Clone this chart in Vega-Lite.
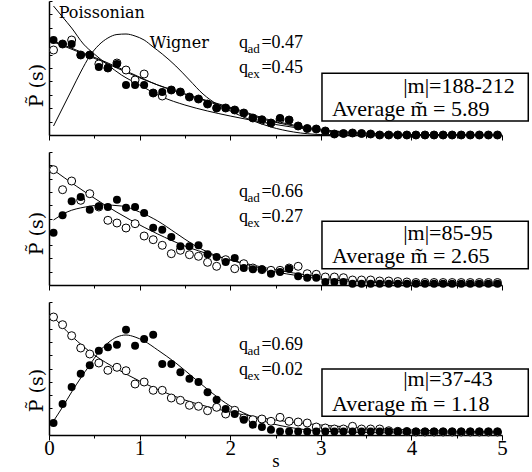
{
  "$schema": "https://vega.github.io/schema/vega-lite/v6.json",
  "padding": {"left": 27, "top": 0, "right": 0, "bottom": 0},
  "spacing": 10,
  "config": {
    "view": {"stroke": null},
    "axis": {"domainColor": "black", "domainWidth": 1.5, "tickColor": "black", "tickWidth": 1, "labelFont": "Liberation Serif", "titleFont": "DejaVu Serif", "labelColor": "black", "titleColor": "black", "grid": false, "titleFontWeight": "normal"}
  },
  "datasets": {
    "a_filled": [
      {"s":0.05,"v":0.95},{"s":0.15,"v":0.91},{"s":0.25,"v":0.91},{"s":0.35,"v":0.80},{"s":0.45,"v":0.80},
      {"s":0.55,"v":0.68},{"s":0.65,"v":0.67},{"s":0.75,"v":0.71},{"s":0.85,"v":0.50},{"s":0.95,"v":0.50},
      {"s":1.05,"v":0.50},{"s":1.15,"v":0.42},{"s":1.25,"v":0.43},{"s":1.35,"v":0.45},{"s":1.45,"v":0.43},
      {"s":1.55,"v":0.38},{"s":1.65,"v":0.36},{"s":1.75,"v":0.31},{"s":1.85,"v":0.27},{"s":1.95,"v":0.27},
      {"s":2.05,"v":0.25},{"s":2.15,"v":0.22},{"s":2.25,"v":0.17},{"s":2.35,"v":0.155},{"s":2.45,"v":0.12},
      {"s":2.55,"v":0.17},{"s":2.65,"v":0.15},{"s":2.75,"v":0.09},{"s":2.85,"v":0.065},{"s":2.95,"v":0.06},
      {"s":3.05,"v":0.04},{"s":3.15,"v":0.01},{"s":3.25,"v":0.015},{"s":3.35,"v":0.02},{"s":3.45,"v":0.015},
      {"s":3.55,"v":0.01},{"s":3.65,"v":0.0},{"s":3.75,"v":0.0},{"s":3.85,"v":0.0},{"s":3.95,"v":0.0},
      {"s":4.05,"v":0.0},{"s":4.15,"v":0.0},{"s":4.25,"v":0.0},{"s":4.35,"v":0.0},{"s":4.45,"v":0.0},
      {"s":4.55,"v":0.0},{"s":4.65,"v":0.0},{"s":4.75,"v":0.0},{"s":4.85,"v":0.0},{"s":4.95,"v":0.0}
    ],
    "a_open": [
      {"s":0.05,"v":0.85},{"s":0.15,"v":0.91},{"s":0.25,"v":0.95},{"s":0.35,"v":0.80},{"s":0.45,"v":0.80},
      {"s":0.55,"v":0.71},{"s":0.65,"v":0.67},{"s":0.75,"v":0.72},{"s":0.85,"v":0.65},{"s":0.95,"v":0.55},
      {"s":1.05,"v":0.61},{"s":1.15,"v":0.42},{"s":1.25,"v":0.39},{"s":1.35,"v":0.45},{"s":1.45,"v":0.43},
      {"s":1.55,"v":0.38},{"s":1.65,"v":0.36},{"s":1.75,"v":0.31},{"s":1.85,"v":0.27},{"s":1.95,"v":0.27},
      {"s":2.05,"v":0.25},{"s":2.15,"v":0.22},{"s":2.25,"v":0.17},{"s":2.35,"v":0.15},{"s":2.45,"v":0.12},
      {"s":2.55,"v":0.16},{"s":2.65,"v":0.15},{"s":2.75,"v":0.09},{"s":2.85,"v":0.065},{"s":2.95,"v":0.06},
      {"s":3.05,"v":0.04},{"s":3.15,"v":0.01},{"s":3.25,"v":0.015},{"s":3.35,"v":0.02},{"s":3.45,"v":0.015},
      {"s":3.55,"v":0.01},{"s":3.65,"v":0.0},{"s":3.75,"v":0.0},{"s":3.85,"v":0.0},{"s":3.95,"v":0.0},
      {"s":4.05,"v":0.0},{"s":4.15,"v":0.0},{"s":4.25,"v":0.0},{"s":4.35,"v":0.0},{"s":4.45,"v":0.0},
      {"s":4.55,"v":0.0},{"s":4.65,"v":0.0},{"s":4.75,"v":0.0},{"s":4.85,"v":0.0},{"s":4.95,"v":0.0}
    ],
    "a_lines": [
      {"curve":"Poisson","s":0.05,"v":1.29},{"curve":"Poisson","s":0.15,"v":1.18},{"curve":"Poisson","s":0.25,"v":1.07},{"curve":"Poisson","s":0.38,"v":0.91},{"curve":"Poisson","s":0.5,"v":0.81},{"curve":"Poisson","s":0.65,"v":0.70},{"curve":"Poisson","s":0.8,"v":0.60},{"curve":"Poisson","s":1.0,"v":0.50},{"curve":"Poisson","s":1.25,"v":0.38},{"curve":"Poisson","s":1.5,"v":0.30},{"curve":"Poisson","s":1.75,"v":0.24},{"curve":"Poisson","s":2.0,"v":0.19},{"curve":"Poisson","s":2.25,"v":0.145},{"curve":"Poisson","s":2.5,"v":0.105},{"curve":"Poisson","s":2.75,"v":0.07},{"curve":"Poisson","s":3.0,"v":0.04},{"curve":"Poisson","s":3.5,"v":0.015},{"curve":"Poisson","s":4.0,"v":0.005},{"curve":"Poisson","s":5.0,"v":0.0},
      {"curve":"Wigner","s":0.05,"v":0.09},{"curve":"Wigner","s":0.15,"v":0.27},{"curve":"Wigner","s":0.25,"v":0.45},{"curve":"Wigner","s":0.35,"v":0.63},{"curve":"Wigner","s":0.45,"v":0.79},{"curve":"Wigner","s":0.55,"v":0.90},{"curve":"Wigner","s":0.65,"v":0.97},{"curve":"Wigner","s":0.75,"v":1.005},{"curve":"Wigner","s":0.85,"v":1.01},{"curve":"Wigner","s":0.95,"v":0.99},{"curve":"Wigner","s":1.05,"v":0.95},{"curve":"Wigner","s":1.15,"v":0.88},{"curve":"Wigner","s":1.25,"v":0.81},{"curve":"Wigner","s":1.4,"v":0.69},{"curve":"Wigner","s":1.55,"v":0.55},{"curve":"Wigner","s":1.7,"v":0.41},{"curve":"Wigner","s":1.85,"v":0.31},{"curve":"Wigner","s":2.0,"v":0.24},{"curve":"Wigner","s":2.2,"v":0.16},{"curve":"Wigner","s":2.45,"v":0.08},{"curve":"Wigner","s":2.7,"v":0.03},{"curve":"Wigner","s":3.0,"v":0.005},{"curve":"Wigner","s":3.5,"v":0.0},{"curve":"Wigner","s":5.0,"v":0.0},
      {"curve":"fit1","s":0.05,"v":0.94},{"curve":"fit1","s":0.3,"v":0.85},{"curve":"fit1","s":0.6,"v":0.74},{"curve":"fit1","s":0.9,"v":0.62},{"curve":"fit1","s":1.2,"v":0.50},{"curve":"fit1","s":1.5,"v":0.41},{"curve":"fit1","s":1.8,"v":0.32},{"curve":"fit1","s":2.1,"v":0.24},{"curve":"fit1","s":2.4,"v":0.15},{"curve":"fit1","s":2.7,"v":0.09},{"curve":"fit1","s":3.0,"v":0.05},{"curve":"fit1","s":3.5,"v":0.015},{"curve":"fit1","s":4.0,"v":0.005},{"curve":"fit1","s":5.0,"v":0.0},
      {"curve":"fit2","s":0.05,"v":0.93},{"curve":"fit2","s":0.3,"v":0.84},{"curve":"fit2","s":0.6,"v":0.73},{"curve":"fit2","s":0.9,"v":0.61},{"curve":"fit2","s":1.2,"v":0.50},{"curve":"fit2","s":1.5,"v":0.41},{"curve":"fit2","s":1.8,"v":0.33},{"curve":"fit2","s":2.1,"v":0.25},{"curve":"fit2","s":2.4,"v":0.16},{"curve":"fit2","s":2.7,"v":0.10},{"curve":"fit2","s":3.0,"v":0.055},{"curve":"fit2","s":3.5,"v":0.02},{"curve":"fit2","s":4.0,"v":0.005},{"curve":"fit2","s":5.0,"v":0.0}
    ],
    "b_filled": [
      {"s":0.05,"v":0.523},{"s":0.15,"v":0.697},{"s":0.25,"v":0.837},{"s":0.35,"v":0.88},{"s":0.45,"v":0.753},
      {"s":0.55,"v":0.787},{"s":0.65,"v":0.78},{"s":0.75,"v":0.853},{"s":0.85,"v":0.773},{"s":0.95,"v":0.78},
      {"s":1.05,"v":0.72},{"s":1.15,"v":0.573},{"s":1.25,"v":0.553},{"s":1.35,"v":0.48},{"s":1.45,"v":0.387},
      {"s":1.55,"v":0.387},{"s":1.65,"v":0.397},{"s":1.75,"v":0.307},{"s":1.85,"v":0.28},{"s":1.95,"v":0.23},
      {"s":2.05,"v":0.27},{"s":2.15,"v":0.17},{"s":2.25,"v":0.157},{"s":2.35,"v":0.157},{"s":2.45,"v":0.113},
      {"s":2.55,"v":0.13},{"s":2.65,"v":0.163},{"s":2.75,"v":0.087},{"s":2.85,"v":0.073},{"s":2.95,"v":0.073},
      {"s":3.05,"v":0.03},{"s":3.15,"v":0.03},{"s":3.25,"v":0.03},{"s":3.35,"v":0.013},{"s":3.45,"v":0.013},
      {"s":3.55,"v":0.013},{"s":3.65,"v":0.013},{"s":3.75,"v":0.013},{"s":3.85,"v":0.013},{"s":3.95,"v":0.013},
      {"s":4.05,"v":0.013},{"s":4.15,"v":0.013},{"s":4.25,"v":0.013},{"s":4.35,"v":0.013},{"s":4.45,"v":0.013},
      {"s":4.55,"v":0.013},{"s":4.65,"v":0.013},{"s":4.75,"v":0.013},{"s":4.85,"v":0.013},{"s":4.95,"v":0.013}
    ],
    "b_open": [
      {"s":0.05,"v":1.153},{"s":0.15,"v":0.953},{"s":0.25,"v":1.04},{"s":0.35,"v":0.847},{"s":0.45,"v":0.913},
      {"s":0.55,"v":0.78},{"s":0.65,"v":0.647},{"s":0.75,"v":0.62},{"s":0.85,"v":0.57},{"s":0.95,"v":0.613},
      {"s":1.05,"v":0.49},{"s":1.15,"v":0.453},{"s":1.25,"v":0.397},{"s":1.35,"v":0.313},{"s":1.45,"v":0.347},
      {"s":1.55,"v":0.303},{"s":1.65,"v":0.287},{"s":1.75,"v":0.227},{"s":1.85,"v":0.187},{"s":1.95,"v":0.253},
      {"s":2.05,"v":0.163},{"s":2.15,"v":0.213},{"s":2.25,"v":0.17},{"s":2.35,"v":0.153},{"s":2.45,"v":0.147},
      {"s":2.55,"v":0.147},{"s":2.65,"v":0.17},{"s":2.75,"v":0.187},{"s":2.85,"v":0.113},{"s":2.95,"v":0.107},
      {"s":3.05,"v":0.08},{"s":3.15,"v":0.08},{"s":3.25,"v":0.073},{"s":3.35,"v":0.05},{"s":3.45,"v":0.05},
      {"s":3.55,"v":0.05},{"s":3.65,"v":0.04},{"s":3.75,"v":0.04},{"s":3.85,"v":0.035},{"s":3.95,"v":0.03},
      {"s":4.05,"v":0.025},{"s":4.15,"v":0.025},{"s":4.25,"v":0.025},{"s":4.35,"v":0.025},{"s":4.45,"v":0.025},
      {"s":4.55,"v":0.025},{"s":4.65,"v":0.025},{"s":4.75,"v":0.025},{"s":4.85,"v":0.025},{"s":4.95,"v":0.025}
    ],
    "b_lines": [
      {"curve":"fitF","s":0.05,"v":0.65},{"curve":"fitF","s":0.2,"v":0.73},{"curve":"fitF","s":0.4,"v":0.78},{"curve":"fitF","s":0.6,"v":0.80},{"curve":"fitF","s":0.8,"v":0.79},{"curve":"fitF","s":1.0,"v":0.73},{"curve":"fitF","s":1.2,"v":0.64},{"curve":"fitF","s":1.4,"v":0.52},{"curve":"fitF","s":1.6,"v":0.40},{"curve":"fitF","s":1.8,"v":0.31},{"curve":"fitF","s":2.0,"v":0.25},{"curve":"fitF","s":2.2,"v":0.20},{"curve":"fitF","s":2.4,"v":0.15},{"curve":"fitF","s":2.7,"v":0.10},{"curve":"fitF","s":3.0,"v":0.06},{"curve":"fitF","s":3.5,"v":0.03},{"curve":"fitF","s":4.0,"v":0.01},{"curve":"fitF","s":5.0,"v":0.0},
      {"curve":"fitO","s":0.05,"v":1.15},{"curve":"fitO","s":0.3,"v":0.99},{"curve":"fitO","s":0.6,"v":0.81},{"curve":"fitO","s":0.9,"v":0.65},{"curve":"fitO","s":1.2,"v":0.51},{"curve":"fitO","s":1.5,"v":0.39},{"curve":"fitO","s":1.8,"v":0.30},{"curve":"fitO","s":2.1,"v":0.23},{"curve":"fitO","s":2.4,"v":0.17},{"curve":"fitO","s":2.7,"v":0.12},{"curve":"fitO","s":3.0,"v":0.08},{"curve":"fitO","s":3.5,"v":0.04},{"curve":"fitO","s":4.0,"v":0.02},{"curve":"fitO","s":5.0,"v":0.01}
    ],
    "c_filled": [
      {"s":0.05,"v":0.12},{"s":0.15,"v":0.31},{"s":0.25,"v":0.48},{"s":0.35,"v":0.613},{"s":0.45,"v":0.697},
      {"s":0.55,"v":0.843},{"s":0.65,"v":0.877},{"s":0.75,"v":0.903},{"s":0.85,"v":1.053},{"s":0.95,"v":0.893},
      {"s":1.05,"v":0.96},{"s":1.15,"v":1.003},{"s":1.25,"v":0.71},{"s":1.35,"v":0.71},{"s":1.45,"v":0.627},
      {"s":1.55,"v":0.563},{"s":1.65,"v":0.53},{"s":1.75,"v":0.427},{"s":1.85,"v":0.353},{"s":1.95,"v":0.26},
      {"s":2.05,"v":0.21},{"s":2.15,"v":0.153},{"s":2.25,"v":0.103},{"s":2.35,"v":0.08},{"s":2.45,"v":0.053},
      {"s":2.55,"v":0.035},{"s":2.65,"v":0.035},{"s":2.75,"v":0.035},{"s":2.85,"v":0.035},{"s":2.95,"v":0.035},
      {"s":3.05,"v":0.035},{"s":3.15,"v":0.035},{"s":3.25,"v":0.035},{"s":3.35,"v":0.035},{"s":3.45,"v":0.035},
      {"s":3.55,"v":0.035},{"s":3.65,"v":0.035},{"s":3.75,"v":0.035},{"s":3.85,"v":0.035},{"s":3.95,"v":0.035},
      {"s":4.05,"v":0.035},{"s":4.15,"v":0.035},{"s":4.25,"v":0.035},{"s":4.35,"v":0.035},{"s":4.45,"v":0.035},
      {"s":4.55,"v":0.035},{"s":4.65,"v":0.035},{"s":4.75,"v":0.035},{"s":4.85,"v":0.035},{"s":4.95,"v":0.035}
    ],
    "c_open": [
      {"s":0.05,"v":1.18},{"s":0.15,"v":1.103},{"s":0.25,"v":0.993},{"s":0.35,"v":0.87},{"s":0.45,"v":0.81},
      {"s":0.55,"v":0.72},{"s":0.65,"v":0.647},{"s":0.75,"v":0.677},{"s":0.85,"v":0.643},{"s":0.95,"v":0.51},
      {"s":1.05,"v":0.53},{"s":1.15,"v":0.447},{"s":1.25,"v":0.447},{"s":1.35,"v":0.37},{"s":1.45,"v":0.347},
      {"s":1.55,"v":0.297},{"s":1.65,"v":0.287},{"s":1.75,"v":0.243},{"s":1.85,"v":0.277},{"s":1.95,"v":0.21},
      {"s":2.05,"v":0.247},{"s":2.15,"v":0.17},{"s":2.25,"v":0.153},{"s":2.35,"v":0.16},{"s":2.45,"v":0.137},
      {"s":2.55,"v":0.177},{"s":2.65,"v":0.137},{"s":2.75,"v":0.13},{"s":2.85,"v":0.12},{"s":2.95,"v":0.08},
      {"s":3.05,"v":0.07},{"s":3.15,"v":0.06},{"s":3.25,"v":0.06},{"s":3.35,"v":0.087},{"s":3.45,"v":0.06},
      {"s":3.55,"v":0.06},{"s":3.65,"v":0.06},{"s":3.75,"v":0.043},{"s":3.85,"v":0.037},{"s":3.95,"v":0.035},
      {"s":4.05,"v":0.03},{"s":4.15,"v":0.03},{"s":4.25,"v":0.03},{"s":4.35,"v":0.03},{"s":4.45,"v":0.03},
      {"s":4.55,"v":0.03},{"s":4.65,"v":0.03},{"s":4.75,"v":0.03},{"s":4.85,"v":0.03},{"s":4.95,"v":0.03}
    ],
    "c_lines": [
      {"curve":"fitF","s":0.05,"v":0.14},{"curve":"fitF","s":0.15,"v":0.28},{"curve":"fitF","s":0.25,"v":0.43},{"curve":"fitF","s":0.35,"v":0.57},{"curve":"fitF","s":0.45,"v":0.70},{"curve":"fitF","s":0.55,"v":0.83},{"curve":"fitF","s":0.65,"v":0.92},{"curve":"fitF","s":0.75,"v":0.98},{"curve":"fitF","s":0.85,"v":1.00},{"curve":"fitF","s":0.95,"v":0.98},{"curve":"fitF","s":1.05,"v":0.94},{"curve":"fitF","s":1.2,"v":0.85},{"curve":"fitF","s":1.4,"v":0.72},{"curve":"fitF","s":1.6,"v":0.57},{"curve":"fitF","s":1.8,"v":0.42},{"curve":"fitF","s":2.0,"v":0.29},{"curve":"fitF","s":2.2,"v":0.20},{"curve":"fitF","s":2.4,"v":0.13},{"curve":"fitF","s":2.7,"v":0.07},{"curve":"fitF","s":3.0,"v":0.04},{"curve":"fitF","s":3.5,"v":0.025},{"curve":"fitF","s":4.0,"v":0.02},{"curve":"fitF","s":5.0,"v":0.02},
      {"curve":"fitO","s":0.05,"v":1.18},{"curve":"fitO","s":0.25,"v":0.99},{"curve":"fitO","s":0.5,"v":0.80},{"curve":"fitO","s":0.75,"v":0.66},{"curve":"fitO","s":1.0,"v":0.54},{"curve":"fitO","s":1.5,"v":0.35},{"curve":"fitO","s":2.0,"v":0.23},{"curve":"fitO","s":2.5,"v":0.15},{"curve":"fitO","s":3.0,"v":0.10},{"curve":"fitO","s":3.5,"v":0.07},{"curve":"fitO","s":4.0,"v":0.05},{"curve":"fitO","s":5.0,"v":0.03}
    ],
    "labels": [
      {"panel":"a","role":"curve","s":0.107,"v":1.167,"text":"Poissonian"},
      {"panel":"a","role":"curve","s":1.113,"v":0.873,"text":"Wigner"},
      {"panel":"a","role":"q","s":2.096,"v":0.873,"text":"q"},
      {"panel":"a","role":"q","s":2.096,"v":0.623,"text":"q"},
      {"panel":"a","role":"sub","s":2.19,"v":0.82,"text":"ad"},
      {"panel":"a","role":"sub","s":2.19,"v":0.57,"text":"ex"},
      {"panel":"a","role":"q","s":2.345,"v":0.873,"text":"=0.47"},
      {"panel":"a","role":"q","s":2.345,"v":0.623,"text":"=0.45"},
      {"panel":"a","role":"box","s":3.909,"v":0.423,"text":"|m|=188-212"},
      {"panel":"a","role":"box","s":3.124,"v":0.19,"text":"Average m̃ = 5.89"},
      {"panel":"b","role":"q","s":2.096,"v":0.88,"text":"q"},
      {"panel":"b","role":"q","s":2.096,"v":0.63,"text":"q"},
      {"panel":"b","role":"sub","s":2.19,"v":0.83,"text":"ad"},
      {"panel":"b","role":"sub","s":2.19,"v":0.58,"text":"ex"},
      {"panel":"b","role":"q","s":2.345,"v":0.88,"text":"=0.66"},
      {"panel":"b","role":"q","s":2.345,"v":0.63,"text":"=0.27"},
      {"panel":"b","role":"box","s":3.909,"v":0.447,"text":"|m|=85-95"},
      {"panel":"b","role":"box","s":3.124,"v":0.22,"text":"Average m̃ = 2.65"},
      {"panel":"c","role":"q","s":2.096,"v":0.853,"text":"q"},
      {"panel":"c","role":"q","s":2.096,"v":0.603,"text":"q"},
      {"panel":"c","role":"sub","s":2.19,"v":0.80,"text":"ad"},
      {"panel":"c","role":"sub","s":2.19,"v":0.55,"text":"ex"},
      {"panel":"c","role":"q","s":2.345,"v":0.853,"text":"=0.69"},
      {"panel":"c","role":"q","s":2.345,"v":0.603,"text":"=0.02"},
      {"panel":"c","role":"box","s":3.909,"v":0.487,"text":"|m|=37-43"},
      {"panel":"c","role":"box","s":3.124,"v":0.237,"text":"Average m̃ = 1.18"}
    ],
    "boxes": [
      {"panel":"a","s":3.013,"s2":5.29,"v":0.617,"v2":0.14},
      {"panel":"b","s":3.013,"s2":5.29,"v":0.637,"v2":0.163},
      {"panel":"c","s":3.013,"s2":5.29,"v":0.66,"v2":0.187}
    ]
  },
  "vconcat": [
    {
      "width": 453, "height": 134,
      "encoding": {
        "x": {"field": "s", "type": "quantitative", "scale": {"domain": [0, 5], "nice": false, "zero": false},
              "axis": {"values": [0,0.5,1,1.5,2,2.5,3,3.5,4,4.5,5], "labels": false, "title": null, "tickSize": {"condition": {"test": "datum.value % 1 !== 0", "value": 3}, "value": 5}}},
        "y": {"field": "v", "type": "quantitative", "scale": {"domain": [0, 1.34], "nice": false, "zero": false},
              "axis": {"values": [0,0.134,0.268,0.402,0.536,0.67,0.804,0.938,1.072,1.206,1.34], "labels": false, "tickSize": -3, "title": "P̃ (s)", "titleFontSize": 19, "titleX": -7, "titleY": 84, "titleAngle": -90, "titleBaseline": "alphabetic", "titleAlign": "center"}}
      },
      "layer": [
        {"data": {"name": "a_lines"}, "mark": {"type": "line", "color": "black", "strokeWidth": 1, "interpolate": "monotone"}, "encoding": {"detail": {"field": "curve"}}},
        {"data": {"name": "a_open"}, "mark": {"type": "circle", "size": 64, "fill": "white", "stroke": "black", "strokeWidth": 1, "opacity": 1}},
        {"data": {"name": "a_filled"}, "mark": {"type": "circle", "size": 64, "color": "black", "opacity": 1}},
        {"data": {"name": "boxes"}, "transform": [{"filter": "datum.panel === 'a'"}], "mark": {"type": "rect", "fill": "white", "stroke": "black", "strokeWidth": 1.5}, "encoding": {"x2": {"field": "s2"}, "y2": {"field": "v2"}}},
        {"data": {"name": "labels"}, "transform": [{"filter": "datum.panel === 'a' && datum.role === 'curve'"}], "mark": {"type": "text", "align": "left", "baseline": "alphabetic", "fontSize": 16, "font": "DejaVu Serif", "color": "black"}, "encoding": {"text": {"field": "text"}}},
        {"data": {"name": "labels"}, "transform": [{"filter": "datum.panel === 'a' && datum.role === 'q'"}], "mark": {"type": "text", "align": "left", "baseline": "alphabetic", "fontSize": 18, "font": "Liberation Serif", "color": "black"}, "encoding": {"text": {"field": "text"}}},
        {"data": {"name": "labels"}, "transform": [{"filter": "datum.panel === 'a' && datum.role === 'sub'"}], "mark": {"type": "text", "align": "left", "baseline": "alphabetic", "fontSize": 13, "font": "Liberation Serif", "color": "black"}, "encoding": {"text": {"field": "text"}}},
        {"data": {"name": "labels"}, "transform": [{"filter": "datum.panel === 'a' && datum.role === 'box'"}], "mark": {"type": "text", "align": "left", "baseline": "alphabetic", "fontSize": 22, "font": "Liberation Serif", "color": "black"}, "encoding": {"text": {"field": "text"}}}
      ]
    },
    {
      "width": 453, "height": 133,
      "encoding": {
        "x": {"field": "s", "type": "quantitative", "scale": {"domain": [0, 5], "nice": false, "zero": false},
              "axis": {"values": [0,0.5,1,1.5,2,2.5,3,3.5,4,4.5,5], "labels": false, "title": null, "tickSize": {"condition": {"test": "datum.value % 1 !== 0", "value": 3}, "value": 5}}},
        "y": {"field": "v", "type": "quantitative", "scale": {"domain": [0, 1.33], "nice": false, "zero": false},
              "axis": {"values": [0,0.133,0.266,0.399,0.532,0.665,0.798,0.931,1.064,1.197,1.33], "labels": false, "tickSize": -3, "title": "P̃ (s)", "titleFontSize": 19, "titleX": -7, "titleY": 81, "titleAngle": -90, "titleBaseline": "alphabetic", "titleAlign": "center"}}
      },
      "layer": [
        {"data": {"name": "b_lines"}, "mark": {"type": "line", "color": "black", "strokeWidth": 1, "interpolate": "monotone"}, "encoding": {"detail": {"field": "curve"}}},
        {"data": {"name": "b_open"}, "mark": {"type": "circle", "size": 64, "fill": "white", "stroke": "black", "strokeWidth": 1, "opacity": 1}},
        {"data": {"name": "b_filled"}, "mark": {"type": "circle", "size": 64, "color": "black", "opacity": 1}},
        {"data": {"name": "boxes"}, "transform": [{"filter": "datum.panel === 'b'"}], "mark": {"type": "rect", "fill": "white", "stroke": "black", "strokeWidth": 1.5}, "encoding": {"x2": {"field": "s2"}, "y2": {"field": "v2"}}},
        {"data": {"name": "labels"}, "transform": [{"filter": "datum.panel === 'b' && datum.role === 'q'"}], "mark": {"type": "text", "align": "left", "baseline": "alphabetic", "fontSize": 18, "font": "Liberation Serif", "color": "black"}, "encoding": {"text": {"field": "text"}}},
        {"data": {"name": "labels"}, "transform": [{"filter": "datum.panel === 'b' && datum.role === 'sub'"}], "mark": {"type": "text", "align": "left", "baseline": "alphabetic", "fontSize": 13, "font": "Liberation Serif", "color": "black"}, "encoding": {"text": {"field": "text"}}},
        {"data": {"name": "labels"}, "transform": [{"filter": "datum.panel === 'b' && datum.role === 'box'"}], "mark": {"type": "text", "align": "left", "baseline": "alphabetic", "fontSize": 22, "font": "Liberation Serif", "color": "black"}, "encoding": {"text": {"field": "text"}}}
      ]
    },
    {
      "width": 453, "height": 133,
      "encoding": {
        "x": {"field": "s", "type": "quantitative", "scale": {"domain": [0, 5], "nice": false, "zero": false},
              "axis": {"values": [0,0.5,1,1.5,2,2.5,3,3.5,4,4.5,5], "labelExpr": "datum.value % 1 === 0 ? format(datum.value, 'd') : ''", "labelFontSize": 21, "labelPadding": -3, "labelFlush": false, "labelOverlap": false, "title": "s", "titleFont": "Liberation Serif", "titleFontSize": 19, "titleY": 31, "titleBaseline": "alphabetic", "tickSize": {"condition": {"test": "datum.value % 1 !== 0", "value": 3}, "value": 5}}},
        "y": {"field": "v", "type": "quantitative", "scale": {"domain": [0, 1.33], "nice": false, "zero": false},
              "axis": {"values": [0,0.133,0.266,0.399,0.532,0.665,0.798,0.931,1.064,1.197,1.33], "labels": false, "tickSize": -3, "title": "P̃ (s)", "titleFontSize": 19, "titleX": -7, "titleY": 88, "titleAngle": -90, "titleBaseline": "alphabetic", "titleAlign": "center"}}
      },
      "layer": [
        {"data": {"name": "c_lines"}, "mark": {"type": "line", "color": "black", "strokeWidth": 1, "interpolate": "monotone"}, "encoding": {"detail": {"field": "curve"}}},
        {"data": {"name": "c_open"}, "mark": {"type": "circle", "size": 64, "fill": "white", "stroke": "black", "strokeWidth": 1, "opacity": 1}},
        {"data": {"name": "c_filled"}, "mark": {"type": "circle", "size": 64, "color": "black", "opacity": 1}},
        {"data": {"name": "boxes"}, "transform": [{"filter": "datum.panel === 'c'"}], "mark": {"type": "rect", "fill": "white", "stroke": "black", "strokeWidth": 1.5}, "encoding": {"x2": {"field": "s2"}, "y2": {"field": "v2"}}},
        {"data": {"name": "labels"}, "transform": [{"filter": "datum.panel === 'c' && datum.role === 'q'"}], "mark": {"type": "text", "align": "left", "baseline": "alphabetic", "fontSize": 18, "font": "Liberation Serif", "color": "black"}, "encoding": {"text": {"field": "text"}}},
        {"data": {"name": "labels"}, "transform": [{"filter": "datum.panel === 'c' && datum.role === 'sub'"}], "mark": {"type": "text", "align": "left", "baseline": "alphabetic", "fontSize": 13, "font": "Liberation Serif", "color": "black"}, "encoding": {"text": {"field": "text"}}},
        {"data": {"name": "labels"}, "transform": [{"filter": "datum.panel === 'c' && datum.role === 'box'"}], "mark": {"type": "text", "align": "left", "baseline": "alphabetic", "fontSize": 22, "font": "Liberation Serif", "color": "black"}, "encoding": {"text": {"field": "text"}}}
      ]
    }
  ]
}
